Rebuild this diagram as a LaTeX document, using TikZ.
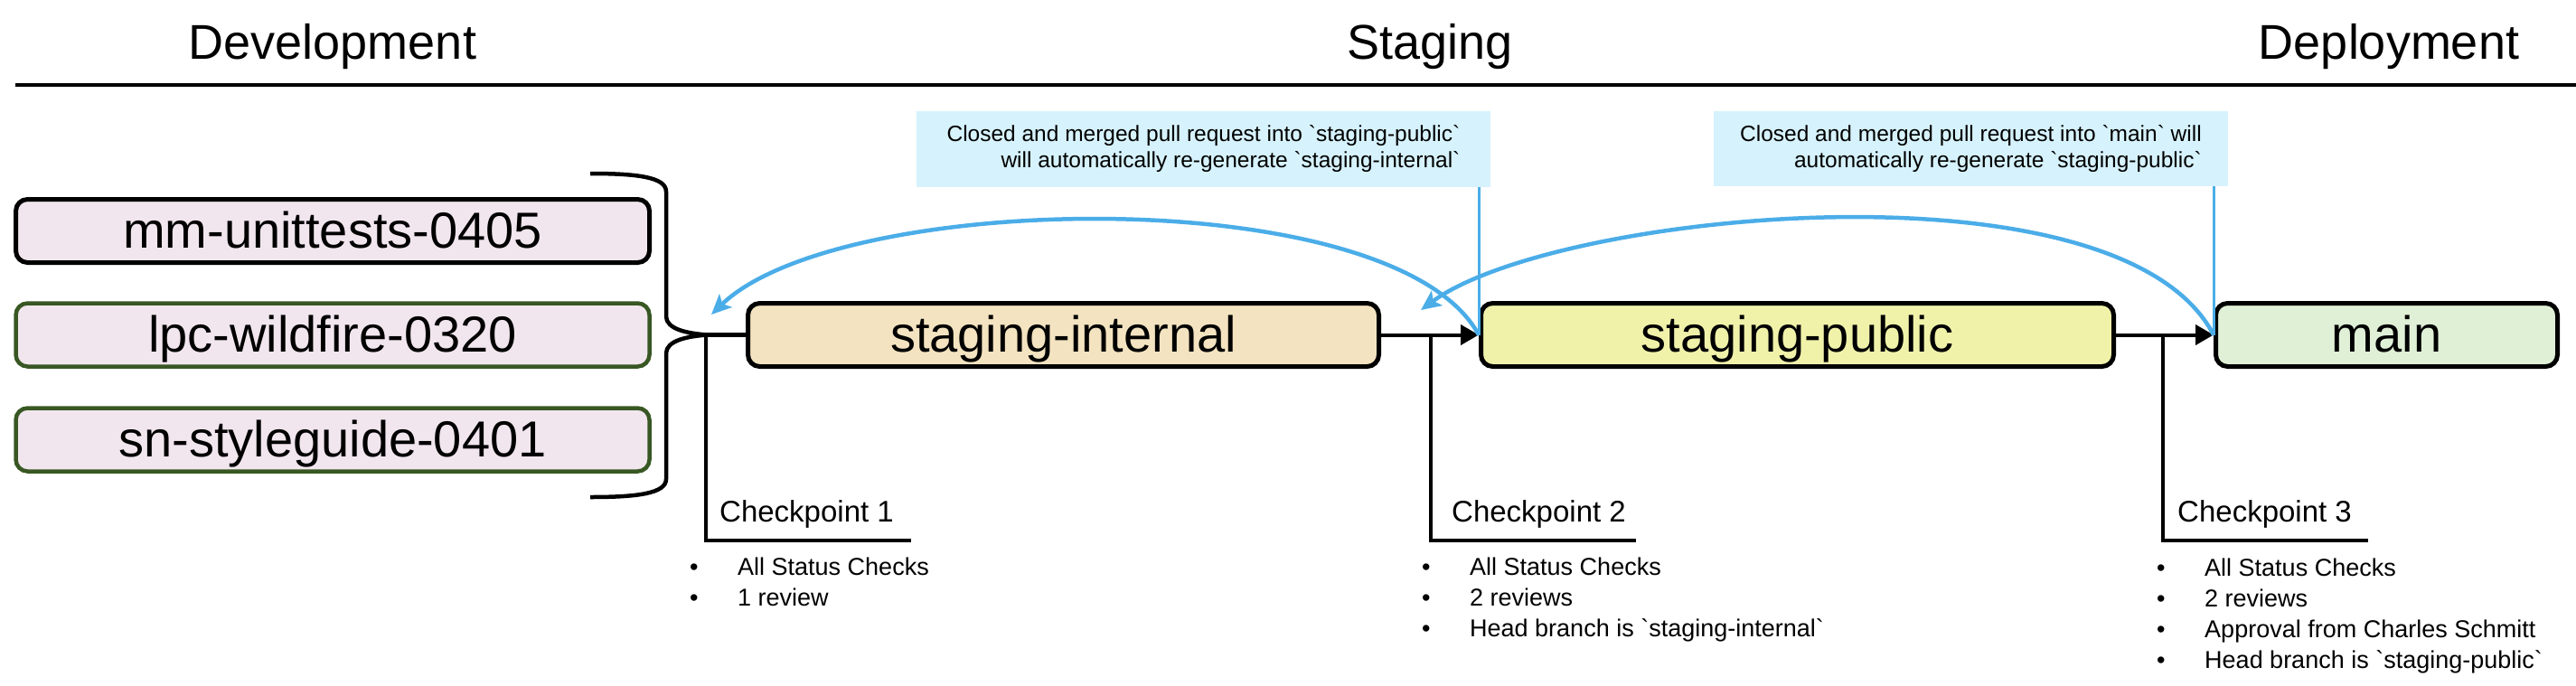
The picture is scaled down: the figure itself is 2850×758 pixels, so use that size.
\documentclass[tikz,border=0pt]{standalone}
\usepackage{fontspec}
\setmainfont{Liberation Sans}
\usetikzlibrary{arrows.meta}
\definecolor{devfill}{HTML}{F2E6EE}
\definecolor{sifill}{HTML}{F3E3C0}
\definecolor{spfill}{HTML}{F0F2AA}
\definecolor{mainfill}{HTML}{DFF0D6}
\definecolor{calloutfill}{HTML}{D6F2FC}
\definecolor{arcblue}{HTML}{4BADE8}
\definecolor{darkgreen}{HTML}{385723}
\begin{document}
\begin{tikzpicture}[x=1pt,y=-1pt,
  branch/.style={draw=black, line width=5pt, rounded corners=13pt, inner sep=0pt,
    minimum height=70pt, text height=38pt, text depth=0pt,
    font=\fontsize{56}{60}\selectfont},
  devbox/.style={branch, fill=devfill, minimum width=701pt},
  greenbox/.style={devbox, draw=darkgreen, line width=4.5pt},
  header/.style={anchor=base, inner sep=0pt, font=\fontsize{54}{60}\selectfont},
  callout/.style={fill=calloutfill, inner sep=0pt, align=right,
    font=\fontsize{24.5}{29}\selectfont},
  cplabel/.style={anchor=base west, inner sep=0pt, font=\fontsize{33}{38}\selectfont},
  item/.style={anchor=base west, inner sep=0pt, font=\fontsize{27}{32}\selectfont},
  blk/.style={line width=4pt},
  blkarrow/.style={line width=4pt, -{Triangle[length=20pt,width=22pt]}},
  bluethin/.style={draw=arcblue, line width=3pt},
  bluearc/.style={draw=arcblue, line width=4.5pt, -{Stealth[length=22pt,width=20pt,inset=5pt]}}
]
\useasboundingbox (0,0) rectangle (2850,758);

% headers
\node[header] (hdev) at (368,65) {Development};
\node[header] (hstg) at (1582,65) {Staging};
\node[header] (hdep) at (2643,65) {Deployment};
\coordinate (rulel) at (17,94);
\coordinate (ruler) at (2850,94);
\draw[line width=4pt] (rulel) -- (ruler);

% development branches
\node[devbox] (mm) at (368,255.5) {mm-unittests-0405};
\node[greenbox] (lpc) at (368,370.5) {lpc-wildfire-0320};
\node[greenbox] (sn) at (368,486.5) {sn-styleguide-0401};

% main row
\node[branch, fill=sifill, minimum width=698pt] (si) at (1176.5,370.5) {staging-internal};
\node[branch, fill=spfill, minimum width=700pt] (sp) at (1988.5,370.5) {staging-public};
\node[branch, fill=mainfill, minimum width=378pt] (main) at (2640.5,370.5) {main};

% brace
\coordinate (tip) at (783,370.5);
\draw[line width=4.5pt, line join=round]
  (653,192) .. controls (705,192) and (737,196) .. (737,212)
  -- (737,350) .. controls (737,364) and (760,369) .. (tip)
  .. controls (760,372) and (737,377) .. (737,391)
  -- (737,530) .. controls (737,546) and (705,550) .. (653,550);
\draw[line width=4.5pt] (tip) -- (si.west);

% black arrows
\draw[blkarrow] (si.east) -- (sp.west);
\draw[blkarrow] (sp.east) -- (main.west);

% checkpoints
\coordinate (cp1top) at (781,370.5);
\coordinate (cp1end) at (1008,598);
\coordinate (cp2top) at (1583,370.5);
\coordinate (cp2end) at (1810,598);
\coordinate (cp3top) at (2393,370.5);
\coordinate (cp3end) at (2620,598);
\draw[blk] (cp1top) |- (cp1end);
\draw[blk] (cp2top) |- (cp2end);
\draw[blk] (cp3top) |- (cp3end);
\node[cplabel] (cp1) at (796,577) {Checkpoint 1};
\node[cplabel] (cp2) at (1606,577) {Checkpoint 2};
\node[cplabel] (cp3) at (2409,577) {Checkpoint 3};

% checkpoint lists
\node[item] (b1a) at (763,636) {•};
\node[item] (t1a) at (816,636) {All Status Checks};
\node[item] (b1b) at (763,670) {•};
\node[item] (t1b) at (816,670) {1 review};

\node[item] (b2a) at (1573,636) {•};
\node[item] (t2a) at (1626,636) {All Status Checks};
\node[item] (b2b) at (1573,670) {•};
\node[item] (t2b) at (1626,670) {2 reviews};
\node[item] (b2c) at (1573,704) {•};
\node[item] (t2c) at (1626,704) {Head branch is \textasciigrave staging-internal\textasciigrave};

\node[item] (b3a) at (2386,637) {•};
\node[item] (t3a) at (2439,637) {All Status Checks};
\node[item] (b3b) at (2386,671) {•};
\node[item] (t3b) at (2439,671) {2 reviews};
\node[item] (b3c) at (2386,705) {•};
\node[item] (t3c) at (2439,705) {Approval from Charles Schmitt};
\node[item] (b3d) at (2386,739) {•};
\node[item] (t3d) at (2439,739) {Head branch is \textasciigrave staging-public\textasciigrave};

% callouts
\node[callout, minimum width=635pt, minimum height=84pt] (c1) at (1331.5,165)
  {Closed and merged pull request into \textasciigrave staging-public\textasciigrave\\
   will automatically re-generate \textasciigrave staging-internal\textasciigrave};
\node[callout, minimum width=569pt, minimum height=83pt] (c2) at (2180.5,164.5)
  {Closed and merged pull request into \textasciigrave main\textasciigrave{} will\\
   automatically re-generate \textasciigrave staging-public\textasciigrave};

% blue connectors
\coordinate (a1end) at (787,348);
\coordinate (a2end) at (1572,343);
\draw[bluethin] (c1.south -| sp.west) -- (sp.west);
\draw[bluethin] (c2.south -| main.west) -- (main.west);
\draw[bluearc] (sp.west) .. controls (1544,200) and (930,210) .. (a1end);
\draw[bluearc] (main.west) .. controls (2346,172) and (1720,234) .. (a2end);
\end{tikzpicture}
\end{document}
